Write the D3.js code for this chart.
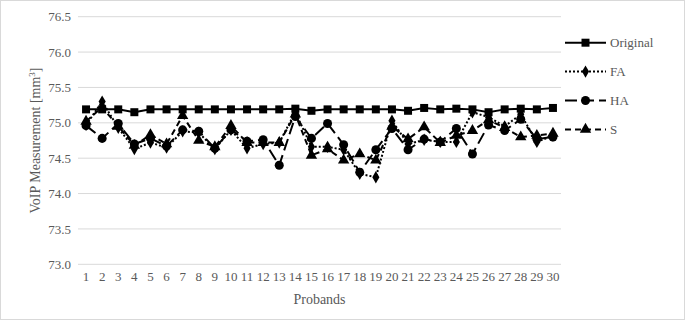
<!DOCTYPE html>
<html>
<head>
<meta charset="utf-8">
<script src="https://cdn.jsdelivr.net/npm/d3@7"></script>
<style>
  body { margin: 0; background: #fff; }
  svg, svg text { font-family: "Liberation Serif", "Times New Roman", Times, serif; }
</style>
</head>
<body>
<div id="drawing"></div>
<script>
// values
const probands = d3.range(1, 31);
const original = [75.19, 75.19, 75.19, 75.15, 75.19, 75.19, 75.19, 75.19, 75.19, 75.19,
                  75.19, 75.19, 75.19, 75.20, 75.17, 75.19, 75.19, 75.19, 75.19, 75.19,
                  75.17, 75.21, 75.19, 75.20, 75.19, 75.15, 75.19, 75.20, 75.19, 75.21];
const fa = [74.97, 75.30, 74.93, 74.63, 74.72, 74.65, 74.88, 74.86, 74.63, 74.90,
            74.64, 74.70, 74.72, 75.15, 74.66, 74.66, 74.62, 74.28, 74.23, 75.03,
            74.70, 74.76, 74.73, 74.73, 75.15, 75.08, 74.95, 75.12, 74.73, 74.82];
const ha = [74.96, 74.78, 74.99, 74.70, 74.78, 74.67, 74.90, 74.88, 74.64, 74.90,
            74.74, 74.76, 74.40, 75.09, 74.78, 74.99, 74.69, 74.30, 74.62, 74.92,
            74.62, 74.77, 74.73, 74.92, 74.56, 74.97, 74.89, 75.05, 74.77, 74.80];
const s = [75.02, 75.22, 74.95, 74.68, 74.83, 74.70, 75.10, 74.75, 74.66, 74.96,
           74.72, 74.72, 74.72, 75.12, 74.54, 74.63, 74.47, 74.56, 74.47, 74.95,
           74.77, 74.94, 74.72, 74.82, 74.89, 75.04, 74.93, 74.80, 74.82, 74.85];
const yTicks = [73.0, 73.5, 74.0, 74.5, 75.0, 75.5, 76.0, 76.5];

const series = [
  {name: "Original", values: original, dash: null, symbol: d3.symbolSquare, size: 64},
  {name: "FA", values: fa, dash: "2,2", symbol: d3.symbolDiamond, size: 44},
  {name: "HA", values: ha, dash: "12,5", symbol: d3.symbolCircle, size: 64},
  {name: "S", values: s, dash: "6,4", symbol: d3.symbolTriangle, size: 56}
];

const width = 685;
const height = 320;
const plot = {left: 78, right: 561, top: 16.7, bottom: 264.3};
const fontFam = "'Liberation Serif', 'Times New Roman', Times, serif";

const svg = d3.select("#drawing").append("svg")
  .attr("width", width)
  .attr("height", height);

// chart border
svg.append("rect")
  .attr("x", 0.5).attr("y", 0.5)
  .attr("width", width - 1).attr("height", height - 1)
  .attr("fill", "#fff")
  .attr("stroke", "#d9d9d9");

const xScale = d3.scaleBand().domain(probands).range([plot.left, plot.right]);
const yScale = d3.scaleLinear().domain([73, 76.5]).range([plot.bottom, plot.top]);
const xc = (d) => xScale(d) + xScale.bandwidth() / 2;

// gridlines
svg.append("g")
  .selectAll("line")
  .data(yTicks)
  .enter()
  .append("line")
    .attr("x1", plot.left).attr("x2", plot.right)
    .attr("y1", (d) => yScale(d)).attr("y2", (d) => yScale(d))
    .attr("stroke", "#d9d9d9")
    .attr("stroke-width", 1);

// y axis labels
const yAxis = svg.append("g")
  .attr("transform", `translate(${plot.left - 7},0)`)
  .call(d3.axisLeft(yScale).tickValues(yTicks).tickFormat(d3.format(".1f")).tickSize(0).tickPadding(0))
  .attr("font-family", fontFam)
  .attr("font-size", 13);
yAxis.select(".domain").remove();
yAxis.selectAll("text").attr("fill", "#595959");

// x axis labels
const xAxis = svg.append("g")
  .attr("transform", `translate(0,${plot.bottom + 7})`)
  .call(d3.axisBottom(xScale).tickSize(0).tickPadding(0))
  .attr("font-family", fontFam)
  .attr("font-size", 13);
xAxis.select(".domain").remove();
xAxis.selectAll("text").attr("fill", "#595959");

// axis titles
svg.append("text")
  .attr("x", (plot.left + plot.right) / 2)
  .attr("y", 304)
  .attr("text-anchor", "middle")
  .attr("font-family", fontFam)
  .attr("font-size", 14)
  .attr("fill", "#595959")
  .text("Probands");

const yTitle = svg.append("text")
  .attr("transform", `translate(40,${(plot.top + plot.bottom) / 2}) rotate(-90)`)
  .attr("text-anchor", "middle")
  .attr("font-family", fontFam)
  .attr("font-size", 14)
  .attr("fill", "#595959");
yTitle.append("tspan").text("VoIP Measurement [mm");
yTitle.append("tspan").attr("font-size", 9).attr("dy", -5).text("3");
yTitle.append("tspan").attr("dy", 5).text("]");

// series
const line = d3.line()
  .x((d, i) => xc(probands[i]))
  .y((d) => yScale(d));

series.forEach((ser) => {
  const g = svg.append("g");
  g.append("path")
    .datum(ser.values)
    .attr("d", line)
    .attr("fill", "none")
    .attr("stroke", "#000")
    .attr("stroke-width", 2)
    .attr("stroke-dasharray", ser.dash);
  g.selectAll("path.mark")
    .data(ser.values)
    .enter()
    .append("path")
      .attr("class", "mark")
      .attr("transform", (d, i) => `translate(${xc(probands[i])},${yScale(d)})`)
      .attr("d", d3.symbol().type(ser.symbol).size(ser.size))
      .attr("fill", "#000");
});

// legend
const legend = svg.append("g")
  .selectAll("g")
  .data(series)
  .enter()
  .append("g")
    .attr("transform", (d, i) => `translate(565,${42.7 + i * 28.9})`);
legend.append("line")
  .attr("x1", 0).attr("x2", 41)
  .attr("stroke", "#000")
  .attr("stroke-width", 2)
  .attr("stroke-dasharray", (d) => d.dash);
legend.append("path")
  .attr("transform", "translate(20.5,0)")
  .attr("d", (d) => d3.symbol().type(d.symbol).size(d.size)())
  .attr("fill", "#000");
legend.append("text")
  .attr("x", 45)
  .attr("dy", "0.35em")
  .attr("font-family", fontFam)
  .attr("font-size", 13)
  .attr("fill", "#595959")
  .text((d) => d.name);
</script>
</body>
</html>
